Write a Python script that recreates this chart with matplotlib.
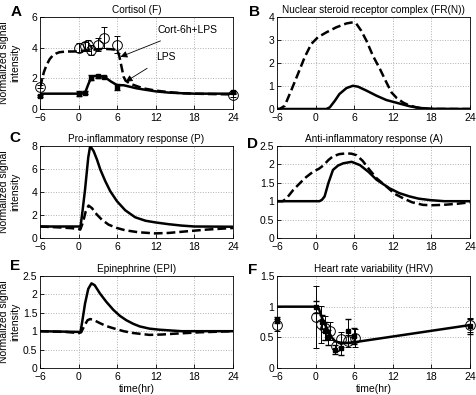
import numpy as np
import matplotlib
matplotlib.use('Agg')
import matplotlib.pyplot as plt

plt.rcParams['font.family'] = ['Liberation Sans', 'DejaVu Sans']
plt.rcParams['font.size'] = 7.5

# ---- data ----
xticks = [-6, 0, 6, 12, 18, 24]

# A: cortisol
tA_cort = [-6, -5.7, -5.4, -5, -4.5, -4, -3.5, -3, -2, -1, 0, 1, 2, 3, 4, 5, 6, 6.3, 6.6, 7, 7.3, 8, 9,
           10, 12, 14, 16, 18, 20, 24]
yA_cort = [1.4, 1.9, 2.4, 2.85, 3.25, 3.5, 3.62, 3.7, 3.75, 3.75, 3.76, 3.8, 3.85, 3.9, 3.92, 3.9, 3.85,
           3.5, 2.9, 2.1, 1.85, 1.65, 1.5, 1.35, 1.2, 1.1, 1.03, 1.0, 0.98, 0.95]
tA_lps = [-6, 0, 1, 1.5, 2, 2.5, 3, 4, 5, 6, 7, 8, 9, 10, 12, 14, 16, 18, 20, 24]
yA_lps = [1, 1, 1.05, 1.6, 2.1, 2.15, 2.15, 2.1, 1.8, 1.55, 1.55, 1.45, 1.35, 1.28, 1.15, 1.07, 1.03, 1.0, 1.0, 1.0]
tA_lps_dat = [-6, 0, 1, 2, 3, 4, 6, 24]
yA_lps_dat = [0.85, 1.0, 1.05, 2.05, 2.15, 2.1, 1.45, 1.1]
eA_lps_dat = [0.05, 0.15, 0.1, 0.15, 0.1, 0.08, 0.2, 0.05]
tA_cort_dat = [-6, 0, 1, 1.5, 2, 3, 4, 6, 24]
yA_cort_dat = [1.45, 4.0, 4.1, 4.15, 3.85, 4.2, 4.65, 4.2, 0.9]
eA_cort_dat = [0.1, 0.3, 0.25, 0.35, 0.3, 0.4, 0.7, 0.55, 0.1]

# B: nuclear steroid receptor complex
tB_cort = [-6, -5.6, -4.8, -3.8, -2.75, -1.7, -0.67, 0.36, 1.66, 3.2, 4.8, 5.8, 6.3, 7.1, 7.9, 8.9, 10,
           11, 11.8, 12.6, 13.6, 14.6, 15.7, 17, 18, 24]
yB_cort = [0, 0, 0.14, 0.8, 1.52, 2.25, 2.83, 3.12, 3.33, 3.55, 3.72, 3.77, 3.72, 3.4, 2.97, 2.32, 1.74,
           1.16, 0.72, 0.48, 0.28, 0.15, 0.07, 0.02, 0.0, 0.0]
tB_lps = [-6, 1.66, 2.2, 3.0, 3.7, 4.8, 5.8, 6.6, 7.9, 9.45, 11, 12.6, 14.6, 16, 18, 24]
yB_lps = [0, 0, 0.07, 0.36, 0.65, 0.91, 1.01, 0.97, 0.8, 0.58, 0.39, 0.27, 0.12, 0.05, 0.01, 0]

# C: pro-inflammatory response
tC_lps = [-6, 0.3, 0.6, 1.0, 1.5, 1.8, 2.33, 2.85, 3.37, 4.15, 4.92, 5.96, 7.25, 8.8, 10.4, 12, 14, 16,
          18, 24]
yC_lps = [1.0, 1.0, 2.3, 4.2, 7.0, 8.0, 7.56, 6.83, 5.96, 4.94, 4.07, 3.2, 2.41, 1.8, 1.5, 1.35, 1.2,
          1.08, 1.0, 0.98]
tC_cort = [-6, -3, -1, 0, 0.26, 0.7, 1.1, 1.55, 2.07, 2.85, 3.6, 4.66, 5.96, 7.25, 9.3, 11.9, 14, 16.8,
           19.9, 24]
yC_cort = [1.0, 0.92, 0.85, 0.78, 0.73, 1.4, 2.3, 2.82, 2.6, 2.03, 1.6, 1.16, 0.87, 0.67, 0.5, 0.4,
           0.44, 0.58, 0.73, 0.87]

# D: anti-inflammatory response
tD_cort = [-6, -5.1, -4.5, -3.5, -2.5, -1.5, -0.4, 0.5, 1.2, 2, 2.7, 3.7, 4.8, 5.6, 6.35, 7.3, 8.4, 9.5,
           11, 12.3, 13.6, 15, 16.7, 18, 19.8, 22, 24]
yD_cort = [1.0, 1.0, 1.08, 1.3, 1.48, 1.65, 1.8, 1.88, 1.97, 2.12, 2.22, 2.28, 2.3, 2.29, 2.25, 2.1, 1.85,
           1.62, 1.4, 1.2, 1.08, 0.97, 0.9, 0.89, 0.9, 0.93, 0.97]
tD_lps = [-6, 0.6, 1.0, 1.4, 2, 2.7, 3.5, 4.3, 5.6, 6.9, 8.2, 9.5, 11.5, 13, 14.6, 16, 17.8, 20, 24]
yD_lps = [1.0, 1.0, 1.04, 1.13, 1.5, 1.85, 1.97, 2.03, 2.07, 1.98, 1.8, 1.58, 1.35, 1.22, 1.13, 1.07,
          1.03, 1.0, 1.0]

# E: epinephrine
tE_lps = [-6, 0.3, 0.6, 1.0, 1.5, 2.0, 2.5, 3.3, 4.3, 5.4, 6.4, 7.4, 8.5, 9.5, 11, 12.6, 16, 24]
yE_lps = [1.0, 0.98, 1.3, 1.75, 2.15, 2.3, 2.25, 2.03, 1.8, 1.58, 1.42, 1.3, 1.2, 1.13, 1.07, 1.04, 1.0, 1.0]
tE_cort = [-6, -2, 0, 0.4, 0.9, 1.4, 1.8, 2.4, 3.3, 4.3, 5.4, 7, 8.5, 11, 13, 14.7, 18.8, 24]
yE_cort = [1.0, 0.98, 0.95, 0.97, 1.15, 1.3, 1.33, 1.3, 1.22, 1.14, 1.08, 1.0, 0.95, 0.9, 0.91, 0.93,
           0.97, 1.0]

# F: heart rate variability
tF = [-6, 0, 0.5, 1, 1.5, 2, 2.5, 3, 3.5, 4, 5, 6, 24]
yF = [1.0, 1.0, 0.97, 0.82, 0.7, 0.6, 0.5, 0.44, 0.42, 0.41, 0.41, 0.42, 0.70]
tF_circ = [-6, 0, 0.85, 1.5, 2.2, 3.1, 4.0, 5.1, 6.1, 24]
yF_circ = [0.7, 0.83, 0.71, 0.65, 0.6, 0.36, 0.47, 0.44, 0.49, 0.70]
eF_circ = [0.1, 0.5, 0.3, 0.2, 0.15, 0.08, 0.12, 0.1, 0.15, 0.12]
tF_dot = [-6, 0, 1, 1.5, 2, 3, 4, 5, 6, 24]
yF_dot = [0.78, 1.0, 0.75, 0.6, 0.5, 0.3, 0.32, 0.6, 0.52, 0.68]
eF_dot = [0.05, 0.1, 0.12, 0.15, 0.12, 0.07, 0.1, 0.2, 0.13, 0.12]

titles = ['Cortisol (F)', 'Nuclear steroid receptor complex (FR(N))',
          'Pro-inflammatory response (P)', 'Anti-inflammatory response (A)',
          'Epinephrine (EPI)', 'Heart rate variability (HRV)']
letters = ['A', 'B', 'C', 'D', 'E', 'F']
ylims = [(0, 6), (0, 4), (0, 8), (0, 2.5), (0, 2.5), (0, 1.5)]
yticks = [[0, 2, 4, 6], [0, 1, 2, 3, 4], [0, 2, 4, 6, 8],
          [0, 0.5, 1, 1.5, 2, 2.5], [0, 0.5, 1, 1.5, 2, 2.5], [0, 0.5, 1, 1.5]]
yticklabels = [['0', '2', '4', '6'], ['0', '1', '2', '3', '4'], ['0', '2', '4', '6', '8'],
               ['0', '0.5', '1', '1.5', '2', '2.5'], ['0', '0.5', '1', '1.5', '2', '2.5'],
               ['0', '0.5', '1', '1.5']]

W, H = 476, 395
fig = plt.figure(figsize=(W / 100, H / 100), dpi=100)

lefts = [40, 277]
width = 193
tops = [17, 146, 276]
height = 92
axes = []
for r in range(3):
    for c in range(2):
        ax = fig.add_axes([lefts[c] / W, 1 - (tops[r] + height) / H, width / W, height / H])
        axes.append(ax)

lw = 1.8
dash = (0, (3.5, 1.6))
for i, ax in enumerate(axes):
    ax.set_xlim(-6, 24)
    ax.set_ylim(*ylims[i])
    ax.set_xticks(xticks)
    ax.set_yticks(yticks[i])
    ax.set_yticklabels(yticklabels[i])
    ax.grid(True, linestyle=':', color='#b0b0b0', linewidth=0.7)
    ax.set_axisbelow(True)
    ax.tick_params(direction='in', length=3, width=0.6, labelsize=7.5)
    ax.tick_params(axis='y', pad=2)
    ax.tick_params(axis='x', pad=3)
    for s in ax.spines.values():
        s.set_linewidth(0.6)
    ax.set_title(titles[i], fontsize=7.2, pad=3)
    if i % 2 == 0:
        ax.set_ylabel('Normalized signal\nintensity', fontsize=7.5, va='center', linespacing=1.15)
        ax.yaxis.set_label_coords(-0.158, 0.5)
    if i >= 4:
        ax.set_xlabel('time(hr)', fontsize=7.5, labelpad=1)


def data_points(ax, t, y, e, marker, ms, hollow=False):
    kw = dict(fmt=marker, color='k', ms=ms, elinewidth=0.7, capsize=2, zorder=4)
    if hollow:
        kw.update(mfc='none', mec='k', mew=0.7)
    cont = ax.errorbar(t, y, yerr=e, **kw)
    for art in cont.get_children():
        art.set_clip_on(False)


# A
ax = axes[0]
ax.plot(tA_cort, yA_cort, color='k', lw=lw, ls=dash)
ax.plot(tA_lps, yA_lps, color='k', lw=lw)
data_points(ax, tA_lps_dat, yA_lps_dat, eA_lps_dat, 's', 2.5)
data_points(ax, tA_cort_dat, yA_cort_dat, eA_cort_dat, 'o', 7, hollow=True)
ax.annotate('Cort-6h+LPS', xy=(6.5, 3.4), xytext=(12.3, 5.15), fontsize=7.5,
            va='center', ha='left',
            arrowprops=dict(arrowstyle='-|>', lw=0.6, color='k', shrinkA=6, shrinkB=0,
                            mutation_scale=10))
ax.annotate('LPS', xy=(7.3, 1.78), xytext=(12.0, 3.4), fontsize=7.5,
            va='center', ha='left',
            arrowprops=dict(arrowstyle='-|>', lw=0.6, color='k', shrinkA=5, shrinkB=0,
                            mutation_scale=10))

# B
ax = axes[1]
ax.plot(tB_cort, yB_cort, color='k', lw=lw, ls=dash)
ax.plot(tB_lps, yB_lps, color='k', lw=lw)

# C
ax = axes[2]
ax.plot(tC_lps, yC_lps, color='k', lw=lw)
ax.plot(tC_cort, yC_cort, color='k', lw=lw, ls=dash)

# D
ax = axes[3]
ax.plot(tD_cort, yD_cort, color='k', lw=lw, ls=dash)
ax.plot(tD_lps, yD_lps, color='k', lw=lw)

# E
ax = axes[4]
ax.plot(tE_lps, yE_lps, color='k', lw=lw)
ax.plot(tE_cort, yE_cort, color='k', lw=lw, ls=dash)

# F
ax = axes[5]
ax.plot(tF, yF, color='k', lw=lw)
data_points(ax, tF_dot, yF_dot, eF_dot, 's', 2.5)
data_points(ax, tF_circ, yF_circ, eF_circ, 'o', 7, hollow=True)

letter_pos = [(16, 12), (255, 12), (15, 138), (252, 144), (15, 266), (253, 270)]
for (px, py), L in zip(letter_pos, letters):
    fig.text(px / W, 1 - py / H, L, fontsize=11, fontweight='bold', va='center', ha='center')

fig.savefig('out.png', dpi=100)
